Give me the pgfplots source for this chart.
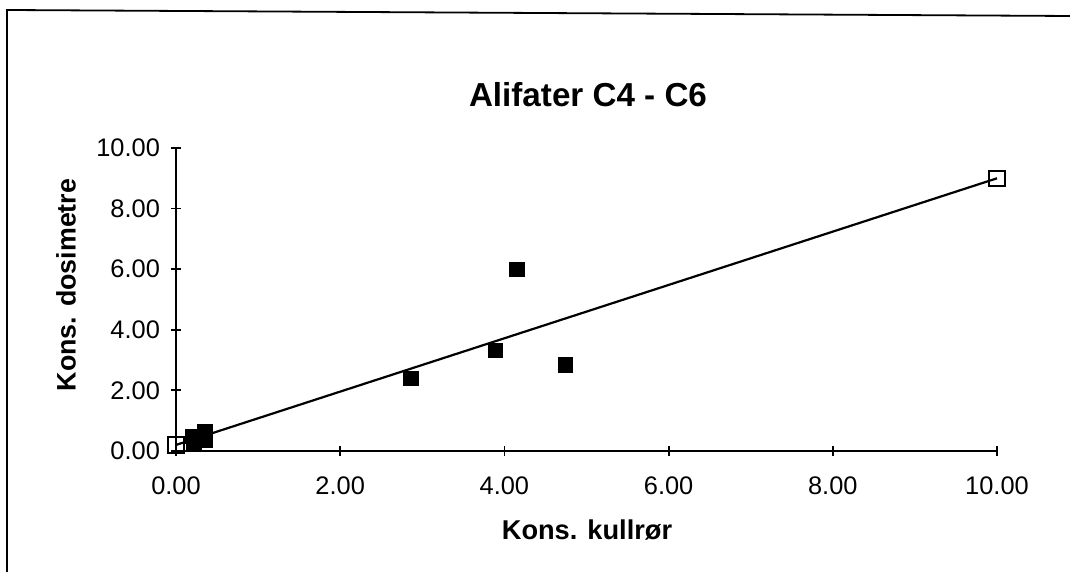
\documentclass[border=0pt]{standalone}
\usepackage{pgfplots}
\pgfplotsset{compat=1.18}
\usepackage{fontspec}
\setmainfont{Liberation Sans}
\begin{document}
\begin{tikzpicture}
\path[use as bounding box] (0,0) rectangle (535pt,286pt);
\draw[line width=0.9pt] (3.5pt,0pt) -- (3.5pt,281pt) -- (535pt,278pt);
\begin{axis}[
  at={(88pt,60.5pt)}, anchor=origin,
  scale only axis, width=410.5pt, height=151.5pt,
  xmin=0, xmax=10, ymin=0, ymax=10,
  clip=false,
  axis x line=bottom, axis y line=left,
  axis line style={-, line width=1pt},
  xtick={0,2,...,10}, ytick={0,2,...,10},
  tick align=center, major tick length=5pt,
  tick style={line width=0.9pt, black},
  every tick label/.append style={font=\fontsize{12.7}{14}\selectfont},
  xticklabel style={yshift=-7pt},
  yticklabel style={xshift=-2pt},
  /pgf/number format/.cd, fixed, fixed zerofill, precision=2, assume math mode=true,
]
\addplot[black, line width=1.1pt, mark=square, mark size=3.8pt, mark options={fill=white, line width=1pt}] coordinates {(0,0.2) (10,9.0)};
\addplot[only marks, mark=square*, mark size=3.6pt, mark options={fill=black, draw=black}] coordinates {
(0.20,0.48) (0.22,0.28) (0.35,0.64) (0.35,0.34) (2.86,2.40) (3.89,3.32) (4.15,6.00) (4.74,2.84)};
\end{axis}
\node[font=\bfseries\fontsize{16.6}{20}\selectfont] at (294pt,238.5pt) {Alifater C4 - C6};
\node[font=\bfseries\fontsize{13.6}{15}\selectfont] at (293.5pt,21pt) {Kons. kullrør};
\node[font=\bfseries\fontsize{13.4}{15}\selectfont, rotate=90] at (33pt,143.5pt) {Kons. dosimetre};
\end{tikzpicture}
\end{document}
